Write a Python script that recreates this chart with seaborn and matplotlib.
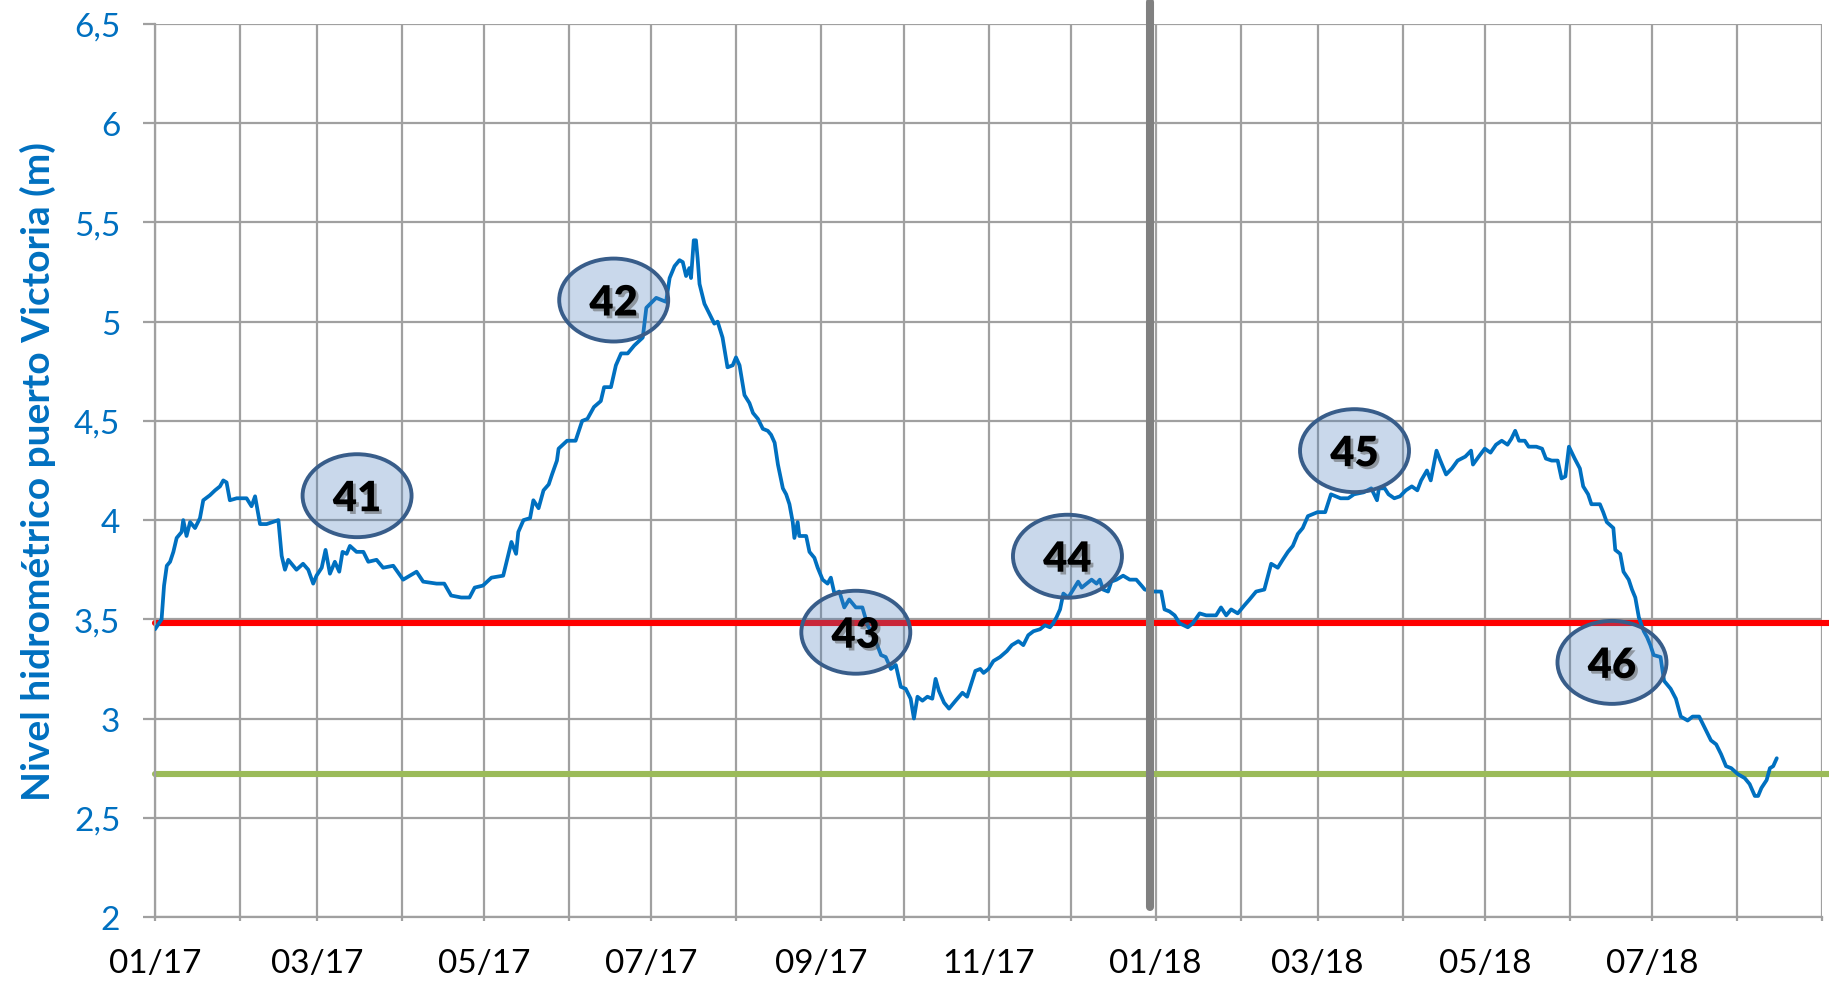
import numpy as np
import pandas as pd
import matplotlib
matplotlib.use('Agg')
import matplotlib.pyplot as plt
import matplotlib.dates as mdates
import matplotlib.patheffects as pe
from matplotlib.patches import Ellipse
from matplotlib.ticker import FixedLocator, FuncFormatter
import seaborn as sns

# ---------------- data ----------------
inicio = '2017-01-01'
# days since 2017-01-01
dias = [0, 2.4, 3.3, 4.3, 5.5, 6.7, 7.9, 9.7, 10.3, 11.5, 12.8, 14.6, 16.4, 17.6, 20, 21.9, 23.7, 24.9,
        26.1, 27.3, 29.8, 33.4, 35.2, 36.5, 38.3, 40.7, 45, 46.2, 47.4, 48.6, 51.6, 54, 55.9, 57.7, 58.9,
        60.8, 62.2, 63.8, 65.6, 67.2, 68.4, 69.9, 71.1, 73.5, 76, 77.8, 80.8, 83.2, 86.9, 90.5, 95.4,
        97.8, 102.7,
        105.5, 108, 111.7, 114.7, 116.6, 119.6, 122.7, 127, 130, 131.7, 132.5, 134.4, 136.8, 138, 139.9,
        141.7, 143.6, 144.8, 146.6, 147.2, 150.3, 153.4, 155.8, 157.7, 160.1, 162.6, 163.8, 166.3, 168.1,
        170, 172.4, 174.8, 177.9,
        179.2, 182.8, 186.4, 187.7, 189.5, 191.3, 192.5, 193.7, 194.9, 195.5, 196.5, 197.3, 197.9, 198.6,
        200.4, 202.2, 204, 205.2, 207, 208.8, 210.7, 211.9,
        213.2, 215, 216.8, 218.1, 219.9, 221.7, 223.5, 224.7, 226, 227.2, 229, 230.2, 231.4, 232.6, 233.2,
        234.4, 235, 237.5, 238.7, 240.5, 241.7, 243.5, 245.3, 246.5, 247.8, 249.6, 251.4, 253.2, 255.6,
        258, 259.9, 262.3, 264.8, 266.5, 268.4, 270.2, 272, 273.8, 275.6, 276.8, 278.1, 279.9, 281.7,
        283.5, 284.7, 285.9, 287.8, 289.6, 292, 294.5, 296.2,
        299.2, 301, 302.2, 304, 305.8, 308.2, 310.7, 312.5, 314.9, 316.7, 318.5, 320.4, 322.8, 324.6,
        326.4, 327.6, 328.8, 330.1, 331.3, 333.1, 334.9, 336.7, 338, 339.8, 341.6, 343.4, 344.6, 345.8,
        347.6, 348.8, 350.7, 353.1, 355.5, 357.9, 359.8, 361, 364.6, 367, 368.2, 370, 371.9, 373.7, 376.7,
        378.5, 381, 383.4, 387, 388.8, 390.7, 392.5, 394.9, 397.3, 399.2, 401.6, 404.6, 407.1, 409.5,
        411.3, 413.2, 415, 416.8, 418.6, 420.5,
        424, 426.8, 428.9, 432.4, 435.2, 437.3, 440.8, 443.6, 445.7, 446.4, 448.5, 449.9, 452, 454.1,
        456.2, 458.4, 460.4, 461.8, 463.9, 465.3, 467.4, 468.8, 470.9, 473, 475.1, 477.9, 480, 480.7,
        482.8, 485, 487.1, 489.1, 491.2, 493.3, 494.7, 496.1, 497.5, 499.6, 501, 503.8, 505.9, 507.3,
        509.4, 511.6, 513, 514.4,
        515.7, 517.8, 519.7, 520.9, 522.7, 523.9, 527, 528.2, 529.5, 531.9, 532.6, 534.4, 535.6, 537.5,
        538.7, 539.9, 541.2, 543, 544.2, 545.4, 546.6, 549.1, 550.4, 552.8, 554.7, 556.5, 559, 560.8,
        563.2, 565.7, 567.5, 569.4, 571.2, 573, 574.9, 577.3, 579.8, 581.6, 583.5, 584.7, 585.9, 587.8,
        589, 590.2, 591.5]
nivel = [3.45, 3.50, 3.67, 3.77, 3.79, 3.84, 3.91, 3.94, 4.0, 3.92, 3.99, 3.96, 4.01, 4.10, 4.125, 4.15,
         4.17, 4.20, 4.19, 4.10, 4.11, 4.11, 4.07, 4.12, 3.98, 3.98, 4.0, 3.82, 3.75, 3.80, 3.75, 3.78, 3.75,
         3.68, 3.72, 3.76, 3.85, 3.73, 3.79, 3.74, 3.84, 3.83, 3.87, 3.84, 3.84, 3.79, 3.80, 3.76, 3.77,
         3.70, 3.74, 3.69, 3.68,
         3.68, 3.62, 3.61, 3.61, 3.66, 3.67, 3.71, 3.72, 3.89, 3.83, 3.94, 4.0, 4.01, 4.10, 4.06, 4.15,
         4.18, 4.23, 4.30, 4.36, 4.40, 4.40, 4.50, 4.51, 4.57, 4.60, 4.67, 4.67, 4.78, 4.84, 4.84, 4.88,
         4.92,
         5.07, 5.12, 5.10, 5.22, 5.28, 5.31, 5.30, 5.23, 5.27, 5.22, 5.41, 5.41, 5.32, 5.19, 5.09, 5.04,
         4.99, 5.0, 4.92, 4.77, 4.78, 4.82,
         4.78, 4.63, 4.59, 4.54, 4.51, 4.46, 4.45, 4.43, 4.39, 4.28, 4.16, 4.13, 4.08, 3.99, 3.91, 3.99,
         3.92, 3.92, 3.84, 3.81, 3.76, 3.70, 3.68, 3.71, 3.63, 3.64, 3.56, 3.60, 3.56, 3.56, 3.47, 3.41,
         3.32, 3.31, 3.25, 3.27, 3.16, 3.15, 3.10, 3.00, 3.11, 3.09, 3.11, 3.10, 3.20, 3.14, 3.08, 3.05,
         3.09, 3.13, 3.11,
         3.24, 3.25, 3.23, 3.25, 3.29, 3.31, 3.34, 3.37, 3.39, 3.37, 3.42, 3.44, 3.45, 3.47, 3.46, 3.48,
         3.51, 3.55, 3.63, 3.61, 3.65, 3.69, 3.66, 3.68, 3.70, 3.68, 3.70, 3.65, 3.64, 3.69, 3.70, 3.72,
         3.70, 3.70, 3.67, 3.65, 3.64, 3.64, 3.55, 3.54, 3.52, 3.48, 3.46, 3.48, 3.53, 3.52, 3.52, 3.56,
         3.52, 3.55, 3.53, 3.57, 3.60, 3.64, 3.65, 3.78, 3.76, 3.80, 3.84, 3.87, 3.93, 3.96, 4.02,
         4.04, 4.04, 4.13, 4.11, 4.11, 4.13, 4.14, 4.16, 4.10, 4.16, 4.16, 4.13, 4.11, 4.12, 4.15, 4.17,
         4.15, 4.20, 4.25, 4.20, 4.35, 4.30, 4.23, 4.26, 4.30, 4.32, 4.35, 4.28, 4.32, 4.36, 4.34, 4.38,
         4.40, 4.38, 4.41, 4.45, 4.40, 4.40, 4.37, 4.37, 4.36, 4.31, 4.30, 4.30, 4.21, 4.22,
         4.37, 4.31, 4.26, 4.17, 4.13, 4.08, 4.08, 4.04, 3.99, 3.96, 3.85, 3.83, 3.74, 3.70, 3.65, 3.61,
         3.51, 3.44, 3.41, 3.37, 3.32, 3.31, 3.19, 3.15, 3.10, 3.01, 2.99, 3.01, 3.01, 2.94, 2.89, 2.87,
         2.82, 2.76, 2.75, 2.72, 2.70, 2.67, 2.61, 2.61, 2.65, 2.69, 2.75, 2.76, 2.80]

nivel_rojo = 3.48
nivel_verde = 2.72
fecha_separador = '2017-12-30'

etiquetas = ['41', '42', '43', '44', '45', '46']
etiq_dias = [73.7, 167.3, 255.6, 332.8, 437.5, 531.4]
etiq_nivel = [4.123, 5.109, 3.435, 3.818, 4.350, 3.283]

fechas_etiquetas_x = ['2017-01-01', '2017-03-01', '2017-05-01', '2017-07-01', '2017-09-01',
                      '2017-11-01', '2018-01-01', '2018-03-01', '2018-05-01', '2018-07-01']
y_ticks = [2, 2.5, 3, 3.5, 4, 4.5, 5, 5.5, 6, 6.5]
titulo_y = 'Nivel hidrométrico puerto Victoria (m)'

# ---------------- figure ----------------
sns.set_theme(style='white')
plt.rcParams['font.family'] = ['Lato', 'DejaVu Sans']

W, H = 1829, 987
fig = plt.figure(figsize=(W / 100, H / 100), dpi=100)
ax = fig.add_axes([155 / W, 1 - 918 / H, 1667 / W, 893 / H])

t0 = pd.Timestamp(inicio)
df = pd.DataFrame({'fecha': t0 + pd.to_timedelta(dias, unit='D'), 'nivel': nivel})
sns.lineplot(data=df, x='fecha', y='nivel', ax=ax, color='#0070C0', lw=2.7, zorder=3)

ax.set_xlim(t0, pd.Timestamp('2018-09-01'))
ax.set_ylim(2, 6.5)

grid_col = '#A0A0A0'
ax.xaxis.set_major_locator(FixedLocator(mdates.date2num(pd.to_datetime(fechas_etiquetas_x))))
ax.xaxis.set_major_formatter(mdates.DateFormatter('%m/%y'))
ax.xaxis.set_minor_locator(mdates.MonthLocator())
ax.yaxis.set_major_locator(FixedLocator(y_ticks))
ax.yaxis.set_major_formatter(FuncFormatter(lambda v, p: f'{v:g}'.replace('.', ',')))

ax.grid(True, which='both', axis='x', color=grid_col, lw=1.6, zorder=0)
ax.grid(True, which='major', axis='y', color=grid_col, lw=1.6, zorder=0)
ax.set_axisbelow(True)

for s in ['top', 'right']:
    ax.spines[s].set_visible(False)
for s in ['left', 'bottom']:
    ax.spines[s].set_color(grid_col)
    ax.spines[s].set_linewidth(1.6)

ax.tick_params(axis='y', which='major', direction='out', length=9, width=1.6, color=grid_col,
               labelsize=24, labelcolor='#0070C0', pad=16, left=True)
ax.tick_params(axis='x', which='both', direction='out', length=3, width=1.6, color=grid_col,
               bottom=True)
ax.tick_params(axis='x', which='major', labelsize=24, labelcolor='black', pad=19)

ax.set_xlabel('')
ax.set_ylabel(titulo_y, fontsize=28, fontweight='bold', color='#0070C0')
ax.yaxis.set_label_coords(-0.0595, 0.5)

# reference lines
ax.axhline(nivel_rojo, xmin=0, xmax=1.004, color='#FF0000', lw=4.4, clip_on=False, zorder=2)
ax.axhline(nivel_verde, xmin=0, xmax=1.004, color='#9BBB59', lw=4.4, clip_on=False, zorder=2)
ax.axvline(pd.Timestamp(fecha_separador), ymin=0.011, ymax=1.025, color='#808080', lw=5.8,
           clip_on=False, zorder=4)

# numbered ellipses
for lab, d, v in zip(etiquetas, etiq_dias, etiq_nivel):
    xc = mdates.date2num(t0 + pd.Timedelta(days=d))
    e = Ellipse((xc, v), width=39.75, height=0.418, facecolor=(79 / 255, 129 / 255, 189 / 255, 0.3),
                edgecolor='#385D8A', lw=2.8, zorder=5)
    ax.add_patch(e)
    ax.text(xc, v, lab, ha='center', va='center_baseline', fontsize=30, fontweight='heavy',
            color='black', zorder=6,
            path_effects=[pe.SimplePatchShadow(offset=(2, -2), shadow_rgbFace='#555555', alpha=0.5),
                          pe.Normal()])

fig.savefig('out.png', dpi=100)
